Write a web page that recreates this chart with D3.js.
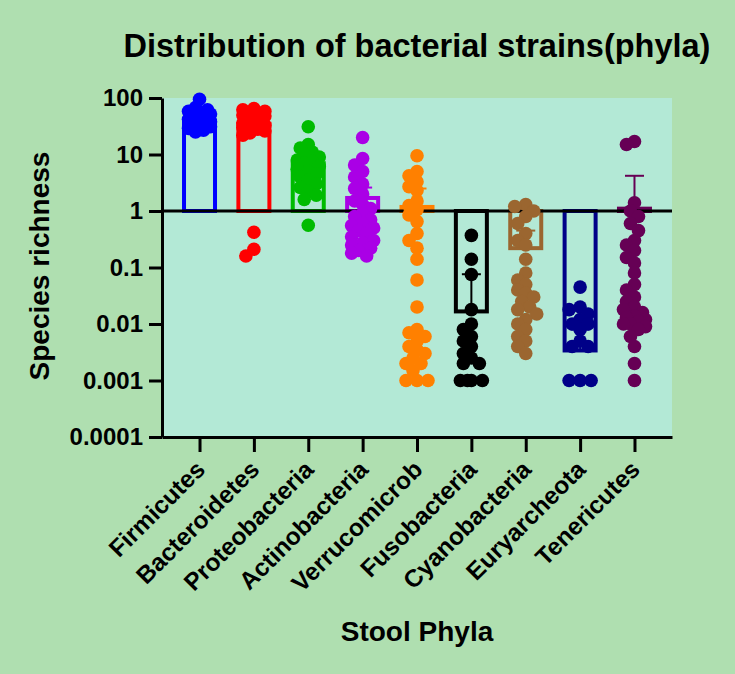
<!DOCTYPE html>
<html><head><meta charset="utf-8">
<script src="https://cdn.jsdelivr.net/npm/d3@7"></script>
<style>
html,body{margin:0;padding:0;background:#afdfb0;}
svg{display:block;font-family:"Liberation Sans",Arial,sans-serif;}
</style></head><body>
<svg id="chart" width="735" height="674"></svg>
<script>
const categories = ["Firmicutes","Bacteroidetes","Proteobacteria","Actinobacteria","Verrucomicrob","Fusobacteria","Cyanobacteria","Euryarcheota","Tenericutes"];
const colors = ["#0000ff","#ff0000","#00bb00","#aa00e6","#ff8000","#000000","#9b6630","#000088","#660055"];
const means = [40, 35, 7, 1.7, 1.18, 0.0167, 0.22, 0.0034, 1.1];
const errUpper = [60, 52, 11, 2.6, 2.5, 0.076, 0.45, 0.008, 4.2];
const yTickValues = [0.0001, 0.001, 0.01, 0.1, 1, 10, 100];
const yTickLabels = ["0.0001","0.001","0.01","0.1","1","10","100"];

const firmicutes = [95, 68, 62, 58, 55, 52, 50, 48, 46, 44, 42, 40, 38, 36, 35, 33, 31, 29, 27, 25];
const bacteroidetes = [65, 62, 58, 55, 52, 50, 48, 45, 42, 40, 38, 36, 35, 33, 31, 30, 28, 26, 24, 22, 0.42, 0.21, 0.16];
const proteobacteria = [31, 15, 13, 11, 10, 9, 8, 7.5, 7, 6.2, 5.5, 5, 4.5, 4, 3.5, 3, 2.6, 2.2, 1.9, 1.6, 0.56];
const actinobacteria = [20, 8.5, 6.5, 5, 4, 3, 2.5, 2, 1.5, 1.3, 1.1, 0.9, 0.8, 0.7, 0.6, 0.55, 0.5, 0.45, 0.4, 0.35, 0.3, 0.27, 0.25, 0.22, 0.2, 0.18, 0.16];
const verrucomicrob = [9.5, 5, 4.2, 3.3, 2.7, 2.3, 1.5, 1.25, 1.05, 0.85, 0.65, 0.4, 0.3, 0.22, 0.14, 0.06, 0.02, 0.008, 0.007, 0.006, 0.005, 0.004, 0.0035, 0.003, 0.0025, 0.002, 0.002, 0.0015, 0.001, 0.001, 0.001];
const fusobacteria = [0.37, 0.14, 0.075, 0.018, 0.01, 0.008, 0.006, 0.005, 0.004, 0.003, 0.0025, 0.002, 0.002, 0.001, 0.001, 0.001, 0.001];
const cyanobacteria = [1.3, 1.2, 1.0, 0.8, 0.6, 0.4, 0.3, 0.25, 0.14, 0.08, 0.06, 0.05, 0.04, 0.035, 0.03, 0.025, 0.02, 0.018, 0.015, 0.012, 0.01, 0.008, 0.006, 0.005, 0.004, 0.003];
const euryarcheota = [0.045, 0.02, 0.018, 0.015, 0.012, 0.01, 0.01, 0.008, 0.005, 0.004, 0.004, 0.001, 0.001, 0.001];
const tenericutes = [17, 15, 1.4, 1.0, 0.8, 0.6, 0.45, 0.3, 0.25, 0.2, 0.15, 0.12, 0.08, 0.05, 0.04, 0.03, 0.025, 0.02, 0.018, 0.016, 0.014, 0.013, 0.012, 0.011, 0.01, 0.01, 0.009, 0.008, 0.006, 0.004, 0.002, 0.001];
const points = [firmicutes, bacteroidetes, proteobacteria, actinobacteria, verrucomicrob, fusobacteria, cyanobacteria, euryarcheota, tenericutes];

const svg = d3.select("#chart");
const L = 162, R = 672, T = 98, B = 437;
const x = d3.scalePoint().domain(categories).range([L, R]).padding(0.69);
const y = d3.scaleLog().domain([0.0001, 100]).range([B, T]);

svg.append("rect").attr("x", L).attr("y", T).attr("width", R - L).attr("height", B - T).attr("fill", "#b3e9d6");

// title
svg.append("text").attr("x", 417).attr("y", 57).attr("text-anchor", "middle")
  .attr("font-size", 32.5).attr("font-weight", "bold").text("Distribution of bacterial strains(phyla)");

// bars
const barW = 31;
categories.forEach((c, i) => {
  const y0 = y(1), y1 = y(means[i]);
  svg.append("rect").attr("x", x(c) - barW / 2).attr("y", Math.min(y0, y1))
    .attr("width", barW).attr("height", Math.abs(y1 - y0))
    .attr("fill", "none").attr("stroke", colors[i]).attr("stroke-width", 4);
});

// baseline at 1
svg.append("line").attr("x1", L).attr("x2", R).attr("y1", y(1)).attr("y2", y(1))
  .attr("stroke", "#000").attr("stroke-width", 3);

// error bars
categories.forEach((c, i) => {
  const g = svg.append("g").attr("stroke", colors[i]).attr("stroke-width", 2);
  g.append("line").attr("x1", x(c)).attr("x2", x(c)).attr("y1", y(means[i])).attr("y2", y(errUpper[i]));
  g.append("line").attr("x1", x(c) - 9.5).attr("x2", x(c) + 9.5).attr("y1", y(errUpper[i])).attr("y2", y(errUpper[i]));
});

// dots (simple deterministic swarm layout)
const rDot = 6.8;
const offsets = [0, -4, 4, -8, 8, -11, 11];
categories.forEach((c, i) => {
  const placed = [];
  points[i].forEach(v => {
    const py = y(v);
    let best = null, bestD = -1;
    for (const o of offsets) {
      let md = Infinity;
      for (const p of placed) md = Math.min(md, Math.hypot(p.o - o, p.y - py));
      if (md >= 8.5) { best = o; bestD = md; break; }
      if (md > bestD) { bestD = md; best = o; }
    }
    placed.push({ o: best, y: py });
  });
  svg.append("g").selectAll("circle").data(placed).join("circle")
    .attr("cx", d => x(c) + d.o).attr("cy", d => d.y).attr("r", rDot).attr("fill", colors[i]);
});

// axes
const yAxis = d3.axisLeft(y).tickValues(yTickValues).tickFormat((d, k) => yTickLabels[k]).tickSize(13).tickPadding(6).tickSizeOuter(0);
const gy = svg.append("g").attr("transform", `translate(${L},0)`).call(yAxis);
const xAxis = d3.axisBottom(x).tickSize(15).tickSizeOuter(0).tickFormat("");
const gx = svg.append("g").attr("transform", `translate(0,${B})`).call(xAxis);
[gy, gx].forEach(g => {
  g.select(".domain").attr("stroke", "#000").attr("stroke-width", 3);
  g.selectAll(".tick line").attr("stroke", "#000").attr("stroke-width", 3);
});
gy.selectAll(".tick text").attr("font-size", 24).attr("font-weight", "bold").attr("fill", "#000")
  .attr("font-family", "Liberation Sans, Arial, sans-serif");

// x labels
svg.append("g").selectAll("text").data(categories).join("text")
  .attr("transform", d => `translate(${x(d) + 7},${B + 34}) rotate(-45)`)
  .attr("text-anchor", "end").attr("font-size", 24.5).attr("font-weight", "bold").text(d => d);

svg.append("text").attr("transform", "translate(49,266) rotate(-90)").attr("text-anchor", "middle")
  .attr("font-size", 28).attr("font-weight", "bold").text("Species richness");
svg.append("text").attr("x", 417).attr("y", 641).attr("text-anchor", "middle")
  .attr("font-size", 28).attr("font-weight", "bold").text("Stool Phyla");
</script></body></html>
